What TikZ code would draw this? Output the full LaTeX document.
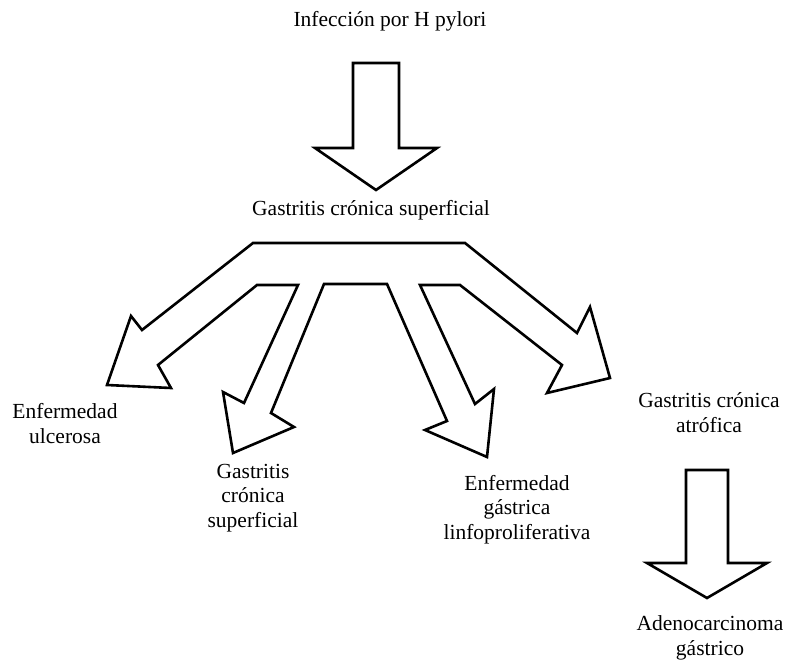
\documentclass[tikz,border=0pt]{standalone}
\usepackage{fontspec}
\setmainfont{Liberation Serif}
\usetikzlibrary{calc}
\tikzset{
	bloque/.style={draw, line width=2.6bp, fill=white, line join=miter, miter limit=10},
	rotulo/.style={font=\fontsize{21.5bp}{24.5bp}\selectfont, align=center, anchor=base, inner sep=0pt}
}

\begin{document}
\begin{tikzpicture}[x=1bp,y=-1bp]
		\useasboundingbox (0,0) rectangle (788,667);
		\def\cx{376}   % eje de la flecha superior
		\def\dx{707}   % eje de la flecha inferior
		
		% flecha superior
		\draw[bloque] ({\cx-23},63) -- ({\cx+23},63) -- ({\cx+23},148) -- ({\cx+61},148)
			-- (\cx,190) -- ({\cx-61},148) -- ({\cx-23},148) -- cycle;
		
		% flecha ramificada
		\draw[bloque] (253,243) -- (465,243) -- (577,333) -- (590,307) -- (610,378) -- (547,393)
			-- (562,365) -- (460,285) -- (420,285) -- (475,404) -- (494,389) -- (487,457)
			-- (425,430) -- (447,421) -- (387,284) -- (324,284) -- (271,413) -- (294,427)
			-- (233,453) -- (223,392) -- (244,403) -- (298,285) -- (257,285) -- (158,365)
			-- (171,388) -- (107,385) -- (131,316) -- (142,330) -- cycle;
		
		% flecha inferior
		\draw[bloque] ({\dx-21},470) -- ({\dx+21},470) -- ({\dx+21},563) -- ({\dx+60},563)
			-- (\dx,598) -- ({\dx-60},563) -- ({\dx-21},563) -- cycle;
		
		% textos (base = ultima linea)
		\node[rotulo] (infeccion) at (390,27) {Infección por H pylori};
		\node[rotulo] (superficial) at (371,215) {Gastritis crónica superficial};
		\node[rotulo] (ulcerosa) at (65,443) {Enfermedad\\ulcerosa};
		\node[rotulo] (cronica) at (253,527) {Gastritis\\crónica\\superficial};
		\node[rotulo] (linfo) at (517,539) {Enfermedad\\gástrica\\linfoproliferativa};
		\node[rotulo] (atrofica) at (709,432) {Gastritis crónica\\atrófica};
		\node[rotulo] (adeno) at (710,655) {Adenocarcinoma\\gástrico};
		
	\end{tikzpicture}
\end{document}
